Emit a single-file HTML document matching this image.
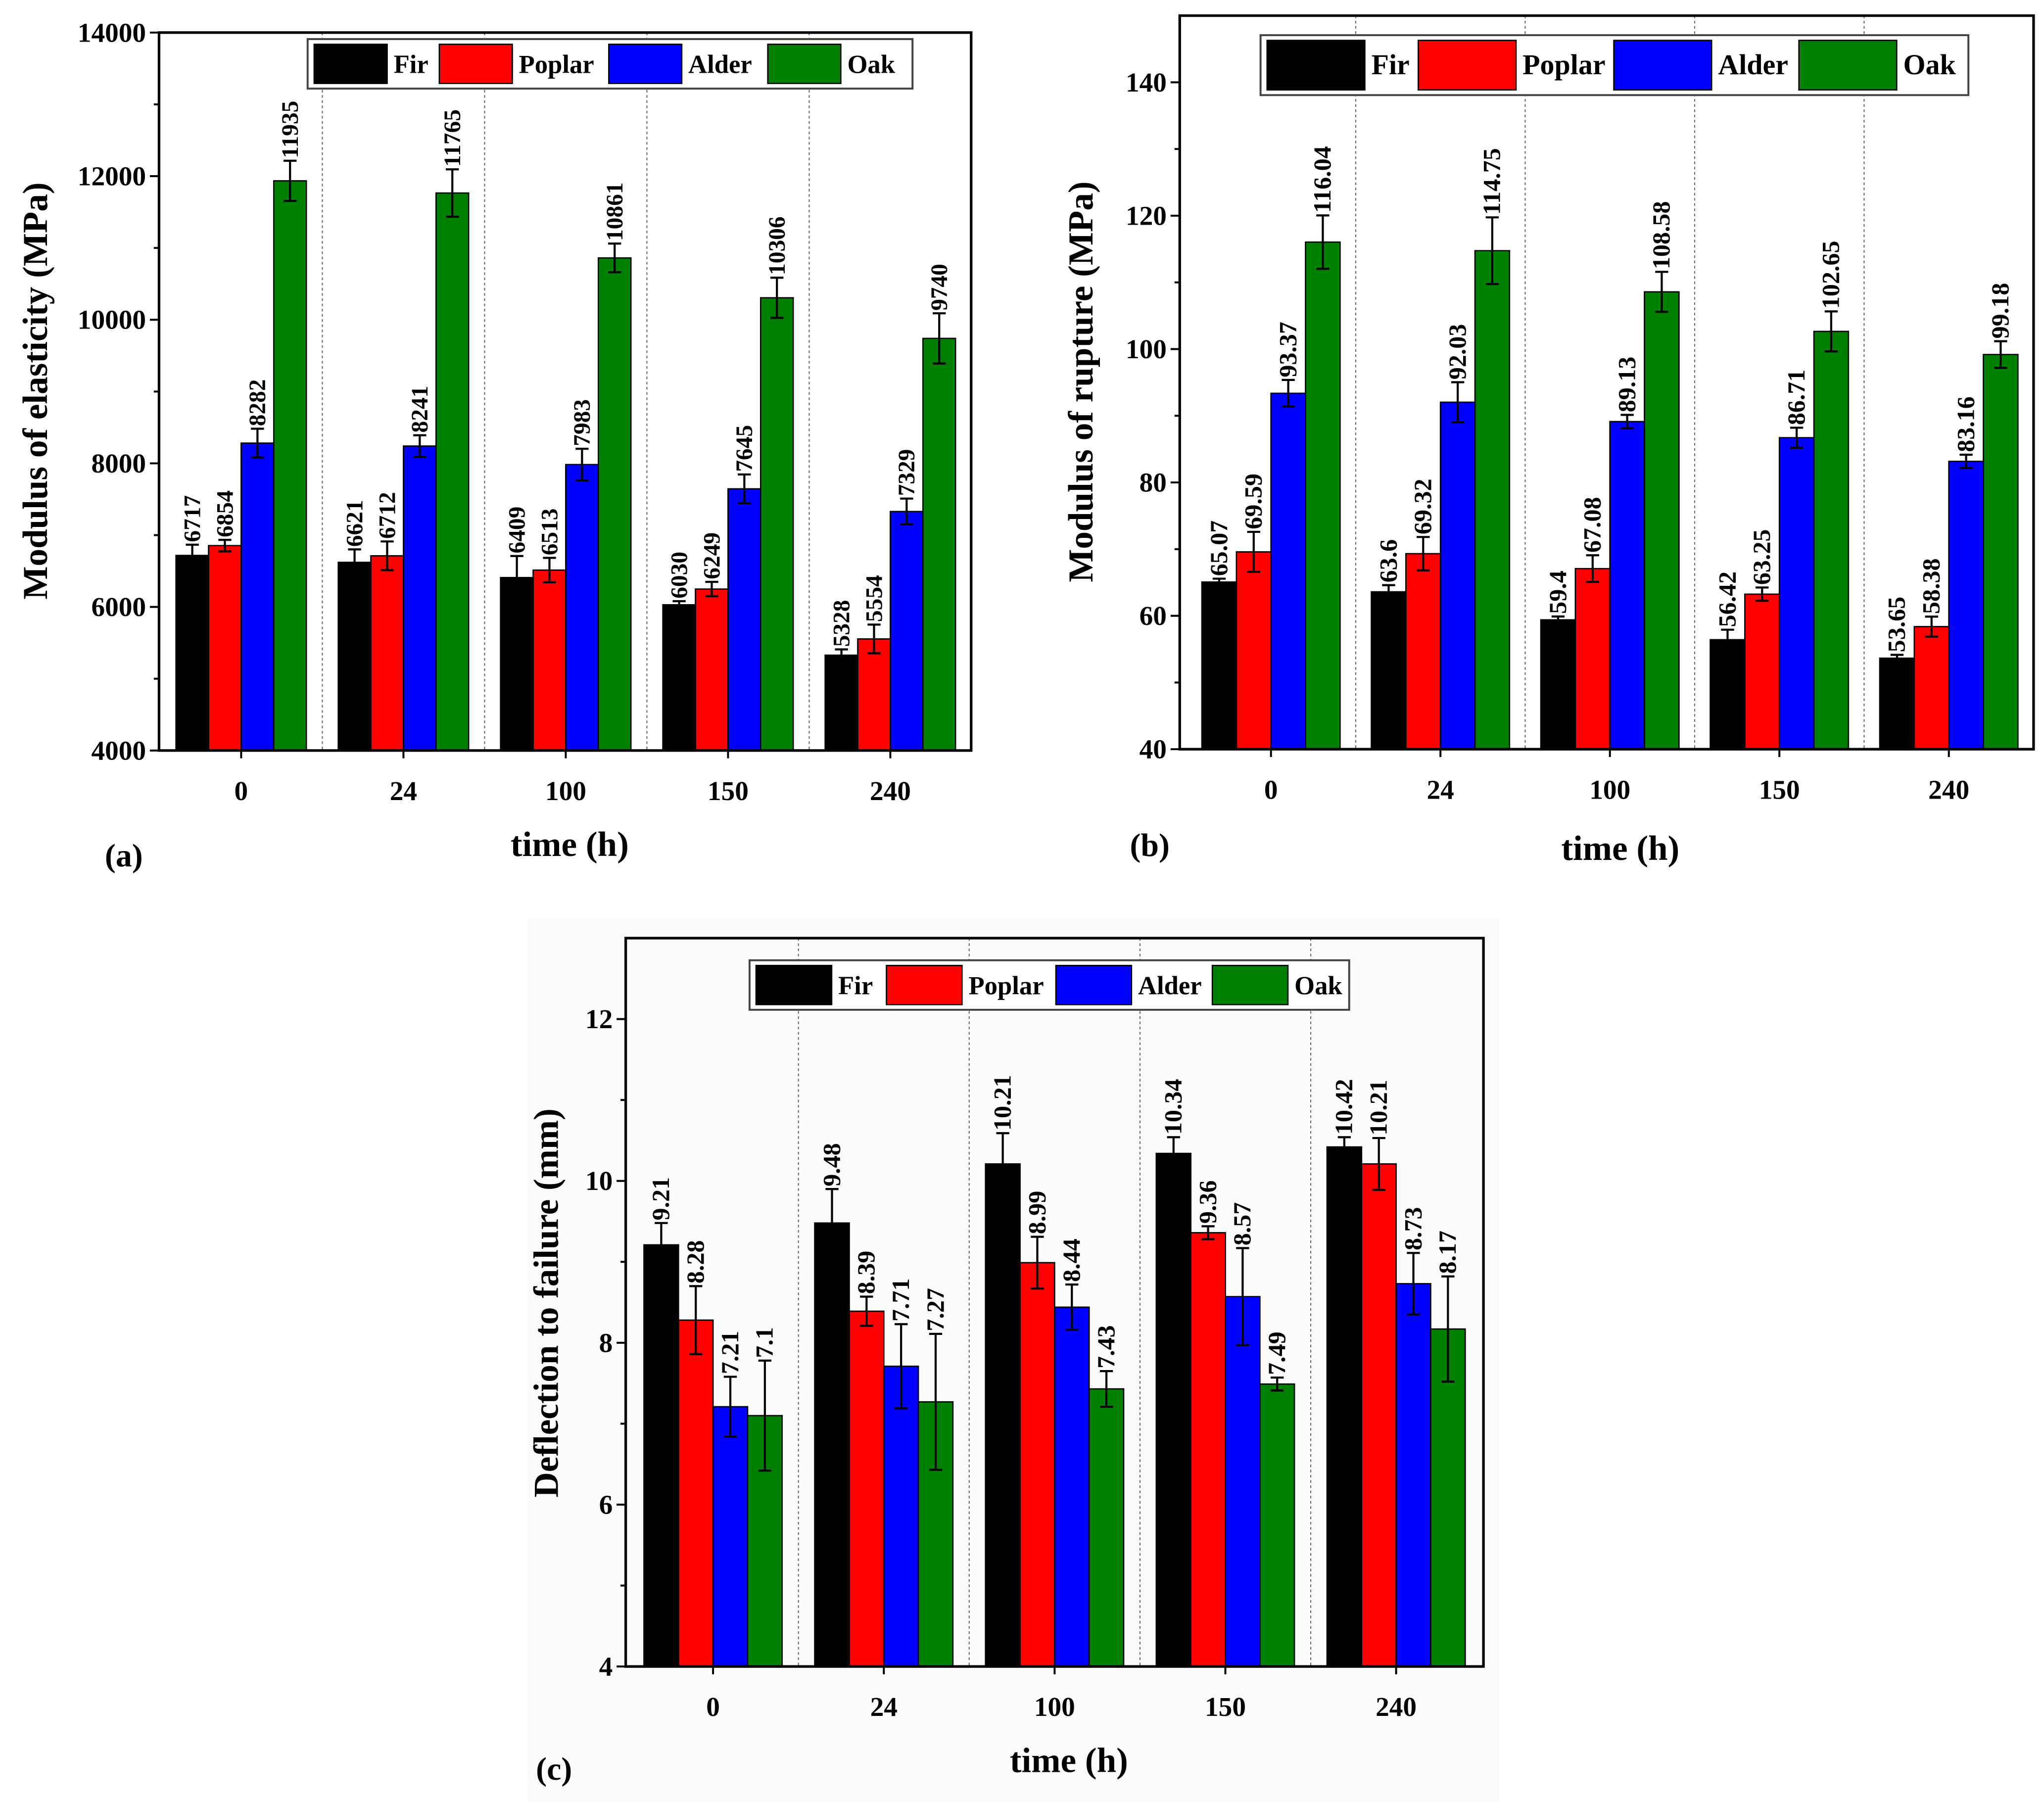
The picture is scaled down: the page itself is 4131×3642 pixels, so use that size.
<!DOCTYPE html>
<html><head><meta charset="utf-8"><style>
html,body{margin:0;padding:0;background:#fff}
svg{display:block}
text{font-family:"Liberation Serif",serif;font-weight:bold;fill:#000}
</style></head><body>
<svg id="fig" xmlns="http://www.w3.org/2000/svg" width="4131" height="3642" viewBox="0 0 1568 1383" preserveAspectRatio="none">
<rect x="405" y="705" width="745" height="678" fill="#fbfbfb"/>
</svg>
<script>
const categories = ["0","24","100","150","240"];
const species = ["Fir","Poplar","Alder","Oak"];
const colors = ["#000000","#ff0000","#0000ff","#008000"];

const moeFir = [6717,6621,6409,6030,5328];
const moePoplar = [6854,6712,6513,6249,5554];
const moeAlder = [8282,8241,7983,7645,7329];
const moeOak = [11935,11765,10861,10306,9740];
const moeErrFir = [150,180,300,50,80];
const moeErrPoplar = [80,200,170,100,200];
const moeErrAlder = [200,150,220,200,180];
const moeErrOak = [280,330,200,280,350];

const morFir = [65.07,63.6,59.4,56.42,53.65];
const morPoplar = [69.59,69.32,67.08,63.25,58.38];
const morAlder = [93.37,92.03,89.13,86.71,83.16];
const morOak = [116.04,114.75,108.58,102.65,99.18];
const morErrFir = [0.5,1,0.5,1.5,0.5];
const morErrPoplar = [3,2.5,2,1,1.5];
const morErrAlder = [2,3,1,1.5,1];
const morErrOak = [4,5,3,3,2];

const dfFir = [9.21,9.48,10.21,10.34,10.42];
const dfPoplar = [8.28,8.39,8.99,9.36,10.21];
const dfAlder = [7.21,7.71,8.44,8.57,8.73];
const dfOak = [7.1,7.27,7.43,7.49,8.17];
const dfErrFir = [0.27,0.42,0.38,0.2,0.12];
const dfErrPoplar = [0.42,0.18,0.32,0.08,0.32];
const dfErrAlder = [0.37,0.52,0.28,0.6,0.38];
const dfErrOak = [0.68,0.84,0.22,0.08,0.65];

const moeTicks = [4000,6000,8000,10000,12000,14000];
const morTicks = [40,60,80,100,120,140];
const dfTicks = [4,6,8,10,12];

const NS = "http://www.w3.org/2000/svg";
const svg = document.getElementById("fig");
function el(tag, attrs, parent, txt){
  const e = document.createElementNS(NS, tag);
  for (const k in attrs) e.setAttribute(k, attrs[k]);
  if (txt !== undefined) e.textContent = txt;
  (parent || svg).appendChild(e);
  return e;
}
function fmt(v){ return String(v); }

function drawChart(c){
  const g = el("g", {}, svg);
  
  
  const y = v => c.yBot - (v - c.ymin) / (c.ymax - c.ymin) * (c.yBot - c.yTop);
  for (let i = 0; i < categories.length - 1; i++) {
    const endX = c.first + c.gap * i + 4 * c.bw;
    const nextX = c.first + c.gap * (i + 1);
    const sx = (endX + nextX) / 2;
    const s = el("line", {x1:sx, x2:sx, y1:c.yTop, y2:c.yBot, stroke:"#666", "stroke-width":0.8, "stroke-dasharray":"2,2"}, g);
    
    
  }
  categories.forEach((cat, i) => {
    c.series.forEach((ser, j) => {
      const v = ser[i];
      const bx = c.first + c.gap * i + j * c.bw;
      const r = el("rect", {x:bx, y:y(v), width:c.bw, height:c.yBot - y(v), fill:colors[j], stroke:"#000", "stroke-width":1}, g);
      
      
      const cx = bx + c.bw / 2, e = c.errs[j][i];
      const eb = el("path", {d:`M${cx},${y(v+e)}V${y(v-e)}M${cx-5},${y(v+e)}H${cx+5}M${cx-5},${y(v-e)}H${cx+5}`, stroke:"#000", "stroke-width":1.6, fill:"none"}, g);
      
      
      const tx = cx + 6, ty = y(v + e) - 2;
      const t = el("text", {x:tx, y:ty, "font-size":c.vfs, transform:`rotate(-90 ${tx} ${ty})`}, g, fmt(v));
      
      
    });
    const gx = c.first + c.gap * i + 2 * c.bw;
    el("line", {x1:gx, x2:gx, y1:c.yBot, y2:c.yBot + 6, stroke:"#000", "stroke-width":1.5}, g);
    const xl = el("text", {x:gx, y:c.yBot + 38, "font-size":21, "text-anchor":"middle"}, g, cat);
    
    
  });
  const f = el("rect", {x:c.x0, y:c.yTop, width:c.x1 - c.x0, height:c.yBot - c.yTop, fill:"none", stroke:"#000", "stroke-width":2}, g);
  
  
  c.ticks.forEach((tv, k) => {
    el("line", {x1:c.x0 - 7, x2:c.x0, y1:y(tv), y2:y(tv), stroke:"#000", "stroke-width":1.5}, g);
    if (k < c.ticks.length - 1) {
      const mv = (tv + c.ticks[k + 1]) / 2;
      el("line", {x1:c.x0 - 4, x2:c.x0, y1:y(mv), y2:y(mv), stroke:"#000", "stroke-width":1.5}, g);
    }
    const yl = el("text", {x:c.x0 - 10, y:y(tv) + 7, "font-size":21, "text-anchor":"end"}, g, String(tv));
    
    
  });
  const yt = el("text", {x:c.ylx, y:c.yly, "font-size":27, "text-anchor":"middle", transform:`rotate(-90 ${c.ylx} ${c.yly})`}, g, c.ytitle);
  
  
  const xt = el("text", {x:c.xlx, y:c.xly, "font-size":27, "text-anchor":"middle"}, g, "time (h)");
  
  
  const pl = el("text", {x:c.plx, y:c.ply, "font-size":25, "text-anchor":"middle"}, g, c.panel);
  
  
  const L = c.legend;
  const lb = el("rect", {x:L.x, y:L.y, width:L.w, height:L.h, fill:"#fff", stroke:"#444", "stroke-width":1.5}, g);
  
  
  species.forEach((sp, j) => {
    const sw = el("rect", {x:L.sx[j], y:L.y + 4, width:L.sw, height:L.h - 8, fill:colors[j], stroke:"#000", "stroke-width":1}, g);
    
    
    const lt = el("text", {x:L.sx[j] + L.sw + 5, y:L.y + L.h / 2 + 7, "font-size":L.fs}, g, sp);
    
    
  });
}

drawChart({name:"chart-modulus-of-elasticity", x0:122, x1:745, yTop:25, yBot:576, ymin:4000, ymax:14000,
  first:135, bw:25, gap:124.5, vfs:18, ticks:moeTicks,
  series:[moeFir,moePoplar,moeAlder,moeOak], errs:[moeErrFir,moeErrPoplar,moeErrAlder,moeErrOak],
  ytitle:"Modulus of elasticity (MPa)", ylx:36, yly:300, xlx:437, xly:657, panel:"(a)", plx:95, ply:665,
  legend:{x:236, y:30, w:464, h:38, sw:56, fs:20, sx:[241,337,467,589]}});

drawChart({name:"chart-modulus-of-rupture", x0:905, x1:1560, yTop:12, yBot:575, ymin:40, ymax:150,
  first:922, bw:26.5, gap:130, vfs:19, ticks:morTicks,
  series:[morFir,morPoplar,morAlder,morOak], errs:[morErrFir,morErrPoplar,morErrAlder,morErrOak],
  ytitle:"Modulus of rupture (MPa)", ylx:838, yly:293, xlx:1243, xly:660, panel:"(b)", plx:882, ply:657,
  legend:{x:967, y:27, w:543, h:46, sw:75, fs:22, sx:[972,1088,1238,1380]}});

drawChart({name:"chart-deflection-to-failure", x0:480, x1:1138, yTop:720, yBot:1279, ymin:4, ymax:13,
  first:494, bw:26.5, gap:131, vfs:19, ticks:dfTicks,
  series:[dfFir,dfPoplar,dfAlder,dfOak], errs:[dfErrFir,dfErrPoplar,dfErrAlder,dfErrOak],
  ytitle:"Deflection to failure (mm)", ylx:428, yly:1000, xlx:820, xly:1360, panel:"(c)", plx:425, ply:1366,
  legend:{x:575, y:737, w:460, h:38, sw:58, fs:20, sx:[580,680,810,930]}});
</script>
</body></html>
